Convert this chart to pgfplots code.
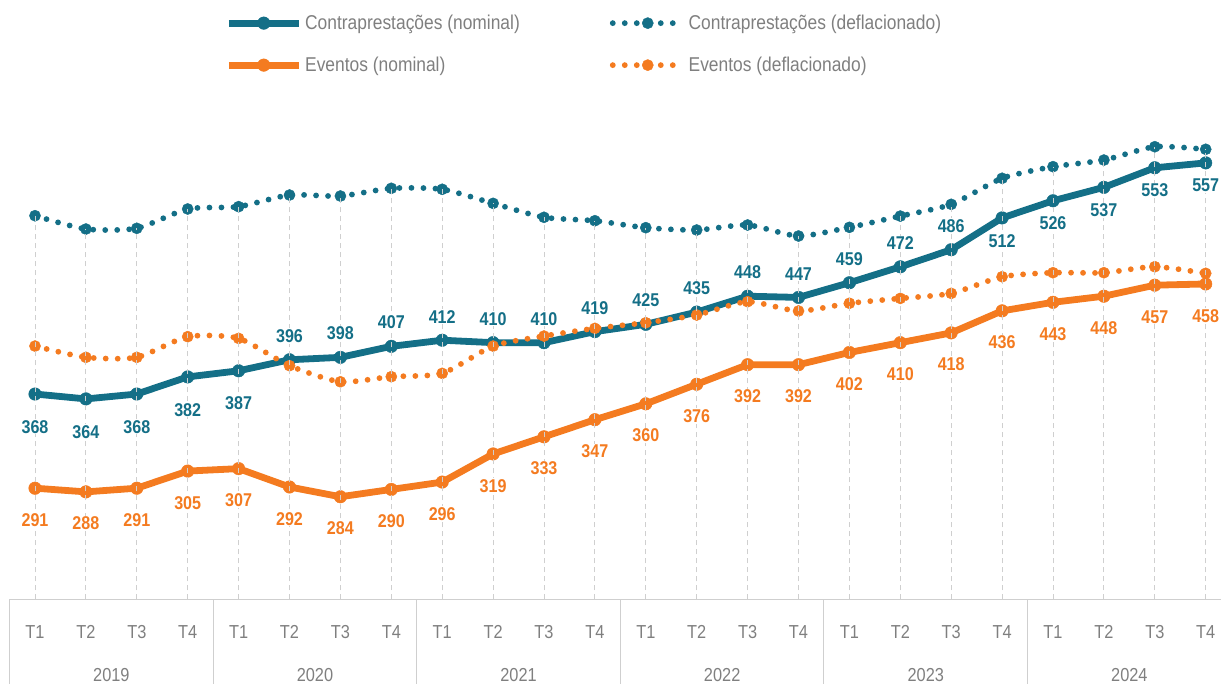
\documentclass[border=0pt]{standalone}
\usepackage{pgfplots}
\pgfplotsset{compat=1.18}
\usepackage{fontspec}
\setmainfont{Liberation Sans}[FakeStretch=0.87]
\definecolor{teal1}{HTML}{146F87}
\definecolor{orange1}{HTML}{F47B20}
\definecolor{txtgray}{HTML}{7F7F7F}
\definecolor{gridgray}{HTML}{CFCFCF}

\pgfplotstableread{
x tn td en ed
0  368 513.8 291 407.2
1  364 502.9 288 398.0
2  368 503.5 291 398.0
3  382 519.3 305 414.9
4  387 521.2 307 413.5
5  396 530.7 292 391.2
6  398 529.9 284 378.0
7  407 536.2 290 382.2
8  412 535.4 296 384.9
9  410 523.9 319 407.2
10 410 512.5 333 415.4
11 419 509.7 347 421.7
12 425 504.0 360 426.3
13 435 502.1 376 432.6
14 448 506.2 392 443.5
15 447 497.2 392 435.9
16 459 504.3 402 442.2
17 472 513.5 410 446.2
18 486 523.1 418 450.3
19 512 544.4 436 463.9
20 526 553.9 443 467.2
21 537 559.3 448 467.2
22 553 570.2 457 472.1
23 557 568.1 458 466.7
}\datatable

\pgfplotstableread{
x y
0 368
1 364
2 368
3 382
4 387
}\tealbelowA

\pgfplotstableread{
x y
19 512
20 526
21 537
22 553
23 557
}\tealbelowB

\pgfplotstableread{
x y
5 396
6 398
7 407
8 412
9 410
10 410
11 419
12 425
13 435
14 448
15 447
16 459
17 472
18 486
}\tealabove

\begin{document}
\begin{tikzpicture}
\useasboundingbox (-9.55pt,-84.5pt) rectangle (1211.45pt,599.5pt);
\begin{axis}[
  scale only axis, width=1211.45pt, height=489.2pt,
  xmin=-0.5, xmax=23.3, ymin=200, ymax=600,
  clip mode=individual,
  hide y axis,
  axis x line*=bottom,
  x axis line style={gridgray, line width=1pt, -},
  xtick={0,...,23},
  xticklabels={T1,T2,T3,T4,T1,T2,T3,T4,T1,T2,T3,T4,T1,T2,T3,T4,T1,T2,T3,T4,T1,T2,T3,T4},
  major tick length=0pt,
  xticklabel style={font=\fontsize{18.8}{20}\selectfont, text=txtgray, anchor=north, inner sep=0pt, yshift=-26pt},
  extra x ticks={-0.5,3.5,7.5,11.5,15.5,19.5},
  extra x tick labels={},
  extra x tick style={major tick length=90pt, tick align=outside, tick style={gridgray, line width=1pt}},
  /pgf/number format/assume math mode=true,
  legend columns=2,
  legend cell align=left,
  legend style={at={(0.178,1.199)}, anchor=north west, draw=none, fill=none, inner sep=0pt,
    font=\fontsize{20}{22}\selectfont, text=txtgray, row sep=22pt,
    /tikz/every even column/.append style={column sep=88pt},
    /tikz/every odd column/.append style={column sep=1pt}},
  legend image code/.code={\draw[mark repeat=2,mark phase=2] plot coordinates {(0pt,0pt)(35pt,0pt)(70pt,0pt)};},
]
% teal nominal
\addplot[teal1, line width=6.8pt, line join=round, mark=*, mark size=6.3pt, mark options={solid, line width=0.4pt}]
  table[x=x, y=tn] {\datatable};
\addlegendentry{Contraprestações (nominal)}
% teal deflated
\addplot[teal1, line width=5.8pt, line cap=round, dash pattern=on 0pt off 12pt, smooth, tension=0.4,
  mark=*, mark size=5.6pt, mark options={solid, line width=0.4pt}]
  table[x=x, y=td] {\datatable};
\addlegendentry{Contraprestações (deflacionado)}
% orange nominal
\addplot[orange1, line width=6.8pt, line join=round, mark=*, mark size=6.3pt, mark options={solid, line width=0.4pt}]
  table[x=x, y=en] {\datatable};
\addlegendentry{Eventos (nominal)}
% orange deflated
\addplot[orange1, line width=5.8pt, line cap=round, dash pattern=on 0pt off 12pt, smooth, tension=0.4,
  mark=*, mark size=5.6pt, mark options={solid, line width=0.4pt}]
  table[x=x, y=ed] {\datatable};
\addlegendentry{Eventos (deflacionado)}
% dashed grid lines
\addplot[ycomb, gridgray, line width=1pt, dash pattern=on 5pt off 4pt, mark=none, forget plot]
  table[x=x, y=td] {\datatable};
% labels
\addplot[draw=none, mark=none, forget plot, nodes near coords, nodes near coords align={below},
  every node near coord/.append style={font=\bfseries\fontsize{18.5}{20}\selectfont, text=teal1, fill=white, inner sep=1pt, yshift=-25pt}]
  table[x=x, y=y] {\tealbelowA};
\addplot[draw=none, mark=none, forget plot, nodes near coords, nodes near coords align={below},
  every node near coord/.append style={font=\bfseries\fontsize{18.5}{20}\selectfont, text=teal1, fill=white, inner sep=1pt, yshift=-15pt}]
  table[x=x, y=y] {\tealbelowB};
\addplot[draw=none, mark=none, forget plot, nodes near coords, nodes near coords align={above},
  every node near coord/.append style={font=\bfseries\fontsize{18.5}{20}\selectfont, text=teal1, fill=white, inner sep=1pt, yshift=16pt}]
  table[x=x, y=y] {\tealabove};
\addplot[draw=none, mark=none, forget plot, nodes near coords, nodes near coords align={below},
  every node near coord/.append style={font=\bfseries\fontsize{18.5}{20}\selectfont, text=orange1, fill=white, inner sep=1pt, yshift=-24pt}]
  table[x=x, y=en] {\datatable};
% year labels
\node[anchor=north, inner sep=0pt, yshift=-68.5pt, text=txtgray, font=\fontsize{18.8}{20}\selectfont] at (axis cs:1.5,200) {2019};
\node[anchor=north, inner sep=0pt, yshift=-68.5pt, text=txtgray, font=\fontsize{18.8}{20}\selectfont] at (axis cs:5.5,200) {2020};
\node[anchor=north, inner sep=0pt, yshift=-68.5pt, text=txtgray, font=\fontsize{18.8}{20}\selectfont] at (axis cs:9.5,200) {2021};
\node[anchor=north, inner sep=0pt, yshift=-68.5pt, text=txtgray, font=\fontsize{18.8}{20}\selectfont] at (axis cs:13.5,200) {2022};
\node[anchor=north, inner sep=0pt, yshift=-68.5pt, text=txtgray, font=\fontsize{18.8}{20}\selectfont] at (axis cs:17.5,200) {2023};
\node[anchor=north, inner sep=0pt, yshift=-68.5pt, text=txtgray, font=\fontsize{18.8}{20}\selectfont] at (axis cs:21.5,200) {2024};
\end{axis}
\end{tikzpicture}
\end{document}
